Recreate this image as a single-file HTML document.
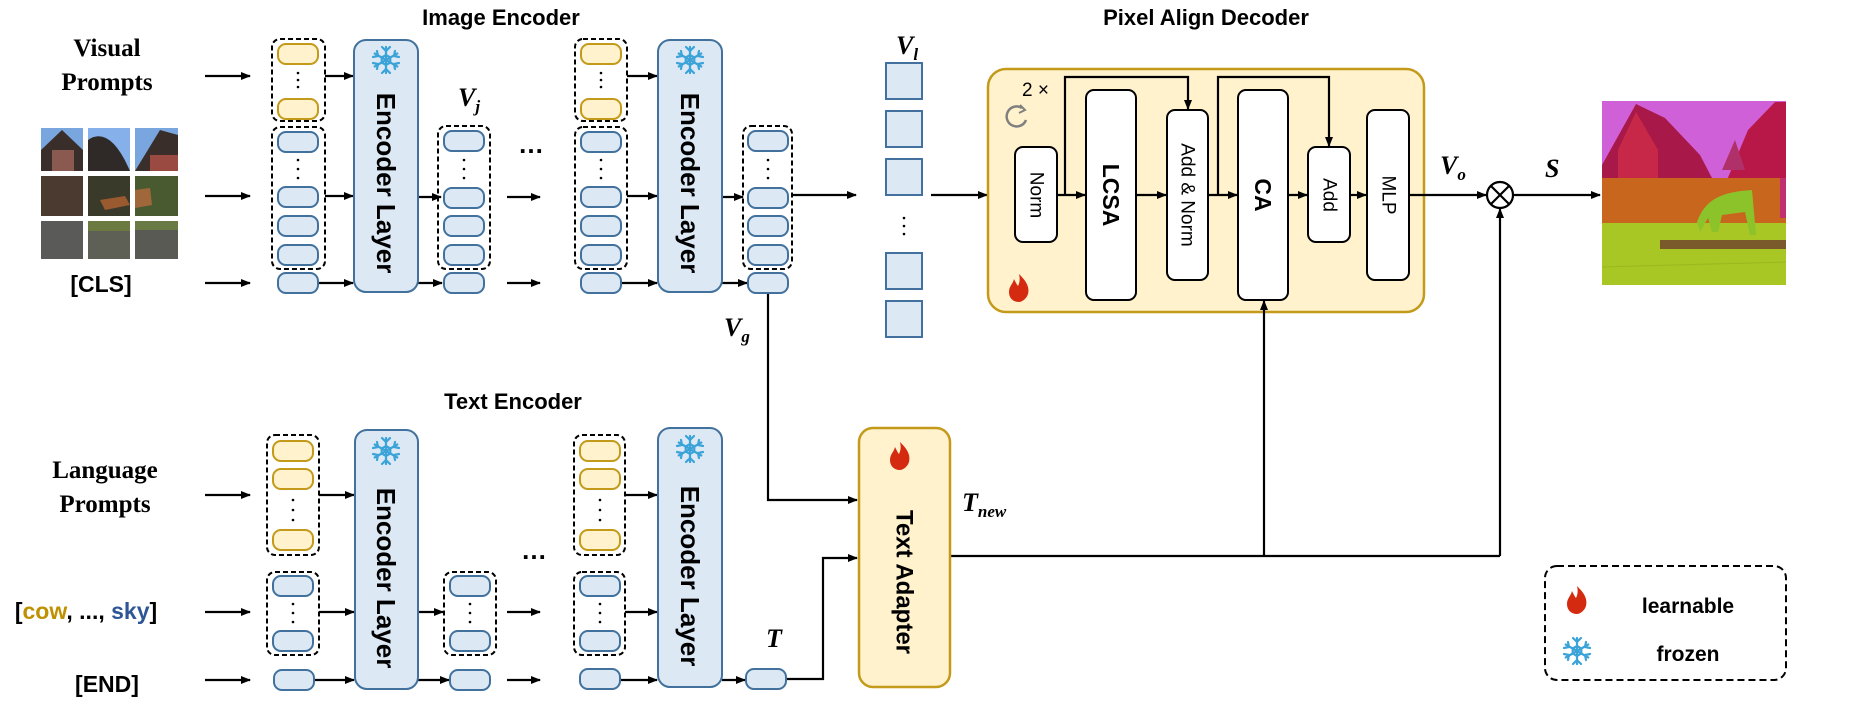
<!DOCTYPE html>
<html><head><meta charset="utf-8"><style>
html,body{margin:0;padding:0;background:#fff;}
svg{display:block;}
</style></head><body>
<svg width="1866" height="725" viewBox="0 0 1866 725" xmlns="http://www.w3.org/2000/svg">
<defs>
<marker id="ah" markerWidth="10" markerHeight="8" refX="9" refY="4" orient="auto" markerUnits="userSpaceOnUse">
<path d="M0,0 L10,4 L0,8 z" fill="#000"/></marker>
<g id="snow" stroke="#3ba3d8" stroke-width="2.2" fill="none" stroke-linecap="round">
<line x1="0" y1="-13" x2="0" y2="13"/><line x1="-11.3" y1="-6.5" x2="11.3" y2="6.5"/><line x1="-11.3" y1="6.5" x2="11.3" y2="-6.5"/>
<path d="M-4,-13 L0,-9 L4,-13 M-4,13 L0,9 L4,13"/>
<path d="M-13,-3 L-8,-4 L-9,-9 M13,3 L8,4 L9,9 M-13,3 L-8,4 L-9,9 M13,-3 L8,-4 L9,-9"/>
<polygon points="0,-5 4.3,-2.5 4.3,2.5 0,5 -4.3,2.5 -4.3,-2.5"/>
</g>
<g id="flame"><path d="M0,-14 C6,-8 11,-2 9,6 C7,12 2,14 0,14 C-6,14 -10,10 -10,4 C-10,-2 -6,-4 -5,-9 C-3,-5 -2,-3 -1,-2 C1,-6 1,-10 0,-14 z" fill="#d42a10"/></g>
<g id="tokB"><rect x="0" y="0" width="40" height="20" rx="8" fill="#dce9f5" stroke="#41719c" stroke-width="2"/></g>
<g id="tokY"><rect x="0" y="0" width="40" height="20" rx="8" fill="#fff2cc" stroke="#c49a1a" stroke-width="2"/></g>
</defs>

<g font-family="Liberation Sans, sans-serif">
<text x="501" y="25" font-size="22" font-weight="bold" text-anchor="middle">Image Encoder</text>
<text x="513" y="409" font-size="22" font-weight="bold" text-anchor="middle">Text Encoder</text>
<text x="1206" y="25" font-size="22" font-weight="bold" text-anchor="middle">Pixel Align Decoder</text>

<g font-family="Liberation Serif, serif" font-weight="bold" font-size="25" text-anchor="middle">
<text x="107" y="56">Visual</text><text x="107" y="90">Prompts</text>
<text x="105" y="478">Language</text><text x="105" y="512">Prompts</text>
</g>
<text x="101" y="292" font-size="23" font-weight="bold" text-anchor="middle">[CLS]</text>
<text x="107" y="692" font-size="23" font-weight="bold" text-anchor="middle">[END]</text>
<text x="86" y="619" font-size="23" font-weight="bold" text-anchor="middle">[<tspan fill="#bf9000">cow</tspan>, ..., <tspan fill="#2f5597">sky</tspan>]</text>

<g>
<rect x="41" y="128" width="42" height="43" fill="#7aa6e0"/><path d="M41,171 L41,150 L62,130 L83,150 L83,171z" fill="#3a2e2a"/><rect x="52" y="150" width="22" height="21" fill="#8a5a50"/>
<rect x="88" y="128" width="42" height="43" fill="#86b0ea"/><path d="M88,171 L88,140 Q110,125 130,171z" fill="#2f2a28"/>
<rect x="135" y="128" width="43" height="43" fill="#7aa6e0"/><path d="M135,171 L160,130 L178,135 L178,171z" fill="#3a2e2a"/><rect x="150" y="155" width="28" height="16" fill="#9a4a40"/>
<rect x="41" y="176" width="42" height="40" fill="#4a3a30"/><rect x="88" y="176" width="42" height="40" fill="#3a3a2a"/><path d="M100,200 L125,196 L130,205 L105,210z" fill="#9a5a30"/>
<rect x="135" y="176" width="43" height="40" fill="#4a5a30"/><path d="M135,190 L150,188 L152,205 L135,208z" fill="#a0683a"/>
<rect x="41" y="221" width="42" height="38" fill="#5a5a58"/><rect x="88" y="221" width="42" height="38" fill="#5e5f55"/><rect x="88" y="221" width="42" height="10" fill="#6a7a40"/>
<rect x="135" y="221" width="43" height="38" fill="#5a5a55"/><rect x="135" y="221" width="43" height="9" fill="#6a7a45"/>
</g>

<g stroke="#000" stroke-width="2.2" marker-end="url(#ah)">
<line x1="205" y1="76" x2="250" y2="76"/><line x1="205" y1="196" x2="250" y2="196"/><line x1="205" y1="283" x2="250" y2="283"/>
<line x1="325" y1="76" x2="353" y2="76"/><line x1="325" y1="196" x2="353" y2="196"/><line x1="319" y1="283" x2="353" y2="283"/>
<line x1="418" y1="197" x2="441" y2="197"/><line x1="418" y1="283" x2="442" y2="283"/>
<line x1="507" y1="197" x2="540" y2="197"/><line x1="507" y1="283" x2="540" y2="283"/>
<line x1="627" y1="76" x2="657" y2="76"/><line x1="627" y1="196" x2="657" y2="196"/><line x1="620" y1="283" x2="657" y2="283"/>
<line x1="722" y1="197" x2="743" y2="197"/><line x1="722" y1="283" x2="747" y2="283"/>
<line x1="792" y1="195" x2="856" y2="195"/>
</g>
<rect x="272" y="39" width="53" height="82" rx="8" fill="none" stroke="#000" stroke-width="2" stroke-dasharray="5,3"/>
<use href="#tokY" x="278" y="44"/><use href="#tokY" x="278" y="99"/>
<rect x="272" y="127" width="53" height="142" rx="8" fill="none" stroke="#000" stroke-width="2" stroke-dasharray="5,3"/>
<use href="#tokB" x="278" y="132"/><use href="#tokB" x="278" y="187"/><use href="#tokB" x="278" y="216"/><use href="#tokB" x="278" y="245"/>
<use href="#tokB" x="278" y="273"/>
<rect x="354" y="40" width="64" height="252" rx="12" fill="#dce9f5" stroke="#41719c" stroke-width="2"/>
<use href="#snow" x="386" y="60"/>
<text transform="translate(386,183) rotate(90)" font-size="26" font-weight="bold" text-anchor="middle" dominant-baseline="central">Encoder Layer</text>
<rect x="438" y="126" width="52" height="143" rx="8" fill="none" stroke="#000" stroke-width="2" stroke-dasharray="5,3"/>
<use href="#tokB" x="444" y="131"/><use href="#tokB" x="444" y="188"/><use href="#tokB" x="444" y="216"/><use href="#tokB" x="444" y="245"/>
<use href="#tokB" x="444" y="273"/>
<text x="531" y="153" font-size="26" font-weight="bold" text-anchor="middle">…</text>
<rect x="575" y="39" width="52" height="82" rx="8" fill="none" stroke="#000" stroke-width="2" stroke-dasharray="5,3"/>
<use href="#tokY" x="581" y="44"/><use href="#tokY" x="581" y="99"/>
<rect x="575" y="127" width="52" height="142" rx="8" fill="none" stroke="#000" stroke-width="2" stroke-dasharray="5,3"/>
<use href="#tokB" x="581" y="132"/><use href="#tokB" x="581" y="187"/><use href="#tokB" x="581" y="216"/><use href="#tokB" x="581" y="245"/>
<use href="#tokB" x="581" y="273"/>
<rect x="658" y="40" width="64" height="252" rx="12" fill="#dce9f5" stroke="#41719c" stroke-width="2"/>
<use href="#snow" x="690" y="60"/>
<text transform="translate(690,183) rotate(90)" font-size="26" font-weight="bold" text-anchor="middle" dominant-baseline="central">Encoder Layer</text>
<rect x="743" y="126" width="49" height="143" rx="8" fill="none" stroke="#000" stroke-width="2" stroke-dasharray="5,3"/>
<use href="#tokB" x="748" y="131"/><use href="#tokB" x="748" y="188"/><use href="#tokB" x="748" y="216"/><use href="#tokB" x="748" y="245"/>
<use href="#tokB" x="748" y="273"/>
<g fill="#000">
<circle cx="298" cy="73" r="1.3"/><circle cx="298" cy="80" r="1.3"/><circle cx="298" cy="87" r="1.3"/>
<circle cx="298" cy="160" r="1.3"/><circle cx="298" cy="169" r="1.3"/><circle cx="298" cy="178" r="1.3"/>
<circle cx="464" cy="160" r="1.3"/><circle cx="464" cy="169" r="1.3"/><circle cx="464" cy="178" r="1.3"/>
<circle cx="601" cy="73" r="1.3"/><circle cx="601" cy="80" r="1.3"/><circle cx="601" cy="87" r="1.3"/>
<circle cx="601" cy="160" r="1.3"/><circle cx="601" cy="169" r="1.3"/><circle cx="601" cy="178" r="1.3"/>
<circle cx="768" cy="160" r="1.3"/><circle cx="768" cy="169" r="1.3"/><circle cx="768" cy="178" r="1.3"/>
<circle cx="904" cy="218" r="1.3"/><circle cx="904" cy="226" r="1.3"/><circle cx="904" cy="234" r="1.3"/>
</g>
<g font-family="Liberation Serif, serif" font-weight="bold" font-style="italic">
<text x="458" y="106" font-size="26">V<tspan font-size="17" dy="6">j</tspan></text>
<text x="896" y="54" font-size="26">V<tspan font-size="17" dy="6">l</tspan></text>
<text x="724" y="336" font-size="26">V<tspan font-size="17" dy="6">g</tspan></text>
<text x="766" y="647" font-size="26">T</text>
<text x="962" y="511" font-size="26">T<tspan font-size="17" dy="6">new</tspan></text>
<text x="1440" y="174" font-size="26">V<tspan font-size="17" dy="6">o</tspan></text>
<text x="1545" y="177" font-size="26">S</text>
</g>
<g fill="#dce9f5" stroke="#41719c" stroke-width="2">
<rect x="886" y="63" width="36" height="36"/><rect x="886" y="111" width="36" height="36"/><rect x="886" y="159" width="36" height="36"/>
<rect x="886" y="253" width="36" height="36"/><rect x="886" y="301" width="36" height="36"/>
</g>
<line x1="931" y1="195" x2="987" y2="195" stroke="#000" stroke-width="2.2" marker-end="url(#ah)"/>

<rect x="988" y="69" width="436" height="243" rx="18" fill="#fff2cc" stroke="#c49a1a" stroke-width="2.5"/>
<text x="1022" y="96" font-size="19">2 ×</text>
<path d="M1022,108 A10,10 0 1 0 1026,120" fill="none" stroke="#808080" stroke-width="2.5"/>
<path d="M1020,105 L1025,110 L1019,113" fill="none" stroke="#808080" stroke-width="2"/>
<use href="#flame" x="1019" y="288"/>
<g fill="#fff" stroke="#000" stroke-width="2">
<rect x="1015" y="147" width="42" height="95" rx="8"/>
<rect x="1086" y="90" width="50" height="210" rx="8"/>
<rect x="1167" y="110" width="41" height="170" rx="8"/>
<rect x="1238" y="90" width="50" height="210" rx="8"/>
<rect x="1308" y="147" width="42" height="95" rx="8"/>
<rect x="1367" y="110" width="42" height="170" rx="8"/>
</g>
<g text-anchor="middle" dominant-baseline="central">
<text transform="translate(1036,195) rotate(90)" font-size="19">Norm</text>
<text transform="translate(1111,195) rotate(90)" font-size="23" font-weight="bold">LCSA</text>
<text transform="translate(1187,195) rotate(90)" font-size="19">Add &amp; Norm</text>
<text transform="translate(1263,195) rotate(90)" font-size="23" font-weight="bold">CA</text>
<text transform="translate(1329,195) rotate(90)" font-size="19">Add</text>
<text transform="translate(1388,195) rotate(90)" font-size="19">MLP</text>
</g>
<g stroke="#000" stroke-width="2.2" fill="none">
<line x1="1057" y1="195" x2="1085" y2="195" marker-end="url(#ah)"/>
<line x1="1136" y1="195" x2="1166" y2="195" marker-end="url(#ah)"/>
<line x1="1208" y1="195" x2="1237" y2="195" marker-end="url(#ah)"/>
<line x1="1288" y1="195" x2="1307" y2="195" marker-end="url(#ah)"/>
<line x1="1350" y1="195" x2="1366" y2="195" marker-end="url(#ah)"/>
<polyline points="1065,195 1065,77 1188,77 1188,109" marker-end="url(#ah)"/>
<polyline points="1218,195 1218,77 1329,77 1329,146" marker-end="url(#ah)"/>
<line x1="1409" y1="195" x2="1486" y2="195" marker-end="url(#ah)"/>
<line x1="1514" y1="195" x2="1600" y2="195" marker-end="url(#ah)"/>
<circle cx="1500" cy="195" r="13"/>
<line x1="1491" y1="186" x2="1509" y2="204"/><line x1="1491" y1="204" x2="1509" y2="186"/>
<line x1="1264" y1="556" x2="1264" y2="301" marker-end="url(#ah)"/>
<line x1="1500" y1="556" x2="1500" y2="209" marker-end="url(#ah)"/>
<line x1="950" y1="556" x2="1500" y2="556"/>
<polyline points="768,294 768,500 857,500" marker-end="url(#ah)"/>
<polyline points="786,679 823,679 823,558 857,558" marker-end="url(#ah)"/>
</g>

<!-- output image -->
<g>
<rect x="1602" y="101" width="184" height="184" fill="#d060d8"/>
<path d="M1602,165 L1636,104 L1665,118 L1700,155 L1712,178 L1602,178z" fill="#a81848"/>
<path d="M1618,150 L1636,112 L1658,150 L1658,178 L1618,178z" fill="#c82848"/>
<path d="M1727,180 L1748,130 L1775,102 L1786,102 L1786,180z" fill="#b81848"/>
<path d="M1722,170 L1735,140 L1745,170z" fill="#b0306a"/>
<rect x="1602" y="178" width="184" height="45" fill="#c8661e"/>
<rect x="1780" y="178" width="6" height="40" fill="#c03070"/>
<rect x="1602" y="223" width="184" height="62" fill="#a8c624"/>
<rect x="1660" y="240" width="126" height="9" fill="#7a5a2a"/>
<path d="M1697,222 C1705,200 1720,192 1752,190 L1756,235 L1750,235 L1745,212 L1722,215 L1718,232 L1712,232 L1708,218 L1700,232z" fill="#8cc22a"/>
<line x1="1602" y1="267" x2="1786" y2="262" stroke="#9ab820" stroke-width="1"/>
</g>

<g stroke="#000" stroke-width="2.2" marker-end="url(#ah)">
<line x1="205" y1="495" x2="250" y2="495"/><line x1="205" y1="612" x2="250" y2="612"/><line x1="205" y1="680" x2="250" y2="680"/>
<line x1="319" y1="495" x2="354" y2="495"/><line x1="319" y1="612" x2="354" y2="612"/><line x1="314" y1="680" x2="354" y2="680"/>
<line x1="418" y1="612" x2="443" y2="612"/><line x1="418" y1="680" x2="449" y2="680"/>
<line x1="507" y1="612" x2="540" y2="612"/><line x1="507" y1="680" x2="540" y2="680"/>
<line x1="625" y1="495" x2="657" y2="495"/><line x1="625" y1="612" x2="657" y2="612"/><line x1="620" y1="680" x2="657" y2="680"/>
<line x1="722" y1="680" x2="745" y2="680"/>
</g>
<rect x="267" y="435" width="52" height="120" rx="8" fill="none" stroke="#000" stroke-width="2" stroke-dasharray="5,3"/>
<use href="#tokY" x="273" y="441"/><use href="#tokY" x="273" y="469"/><use href="#tokY" x="273" y="530"/>
<rect x="267" y="572" width="52" height="83" rx="8" fill="none" stroke="#000" stroke-width="2" stroke-dasharray="5,3"/>
<use href="#tokB" x="273" y="576"/><use href="#tokB" x="273" y="631"/>
<use href="#tokB" x="274" y="670"/>
<rect x="355" y="430" width="63" height="259" rx="12" fill="#dce9f5" stroke="#41719c" stroke-width="2"/>
<use href="#snow" x="386" y="451"/>
<text transform="translate(386,578) rotate(90)" font-size="26" font-weight="bold" text-anchor="middle" dominant-baseline="central">Encoder Layer</text>
<rect x="444" y="572" width="52" height="83" rx="8" fill="none" stroke="#000" stroke-width="2" stroke-dasharray="5,3"/>
<use href="#tokB" x="450" y="576"/><use href="#tokB" x="450" y="631"/>
<use href="#tokB" x="450" y="670"/>
<text x="534" y="559" font-size="26" font-weight="bold" text-anchor="middle">…</text>
<rect x="574" y="435" width="51" height="120" rx="8" fill="none" stroke="#000" stroke-width="2" stroke-dasharray="5,3"/>
<use href="#tokY" x="580" y="441"/><use href="#tokY" x="580" y="469"/><use href="#tokY" x="580" y="530"/>
<rect x="574" y="572" width="51" height="83" rx="8" fill="none" stroke="#000" stroke-width="2" stroke-dasharray="5,3"/>
<use href="#tokB" x="580" y="576"/><use href="#tokB" x="580" y="631"/>
<use href="#tokB" x="580" y="669"/>
<rect x="658" y="428" width="64" height="259" rx="12" fill="#dce9f5" stroke="#41719c" stroke-width="2"/>
<use href="#snow" x="690" y="449"/>
<text transform="translate(690,576) rotate(90)" font-size="26" font-weight="bold" text-anchor="middle" dominant-baseline="central">Encoder Layer</text>
<use href="#tokB" x="746" y="669"/>
<g fill="#000">
<circle cx="293" cy="500" r="1.3"/><circle cx="293" cy="510" r="1.3"/><circle cx="293" cy="520" r="1.3"/>
<circle cx="293" cy="604" r="1.3"/><circle cx="293" cy="613" r="1.3"/><circle cx="293" cy="622" r="1.3"/>
<circle cx="470" cy="604" r="1.3"/><circle cx="470" cy="613" r="1.3"/><circle cx="470" cy="622" r="1.3"/>
<circle cx="600" cy="500" r="1.3"/><circle cx="600" cy="510" r="1.3"/><circle cx="600" cy="520" r="1.3"/>
<circle cx="600" cy="604" r="1.3"/><circle cx="600" cy="613" r="1.3"/><circle cx="600" cy="622" r="1.3"/>
</g>

<rect x="859" y="428" width="91" height="259" rx="14" fill="#fff2cc" stroke="#c49a1a" stroke-width="2.5"/>
<use href="#flame" x="900" y="456"/>
<text transform="translate(904,582) rotate(90)" font-size="24" font-weight="bold" text-anchor="middle" dominant-baseline="central">Text  Adapter</text>

<rect x="1545" y="566" width="241" height="114" rx="12" fill="none" stroke="#000" stroke-width="2" stroke-dasharray="7,4"/>
<use href="#flame" x="1577" y="600"/>
<use href="#snow" x="1577" y="651"/>
<text x="1688" y="613" font-size="21" font-weight="bold" text-anchor="middle">learnable</text>
<text x="1688" y="661" font-size="21" font-weight="bold" text-anchor="middle">frozen</text>
</g>
</svg>
</body></html>
